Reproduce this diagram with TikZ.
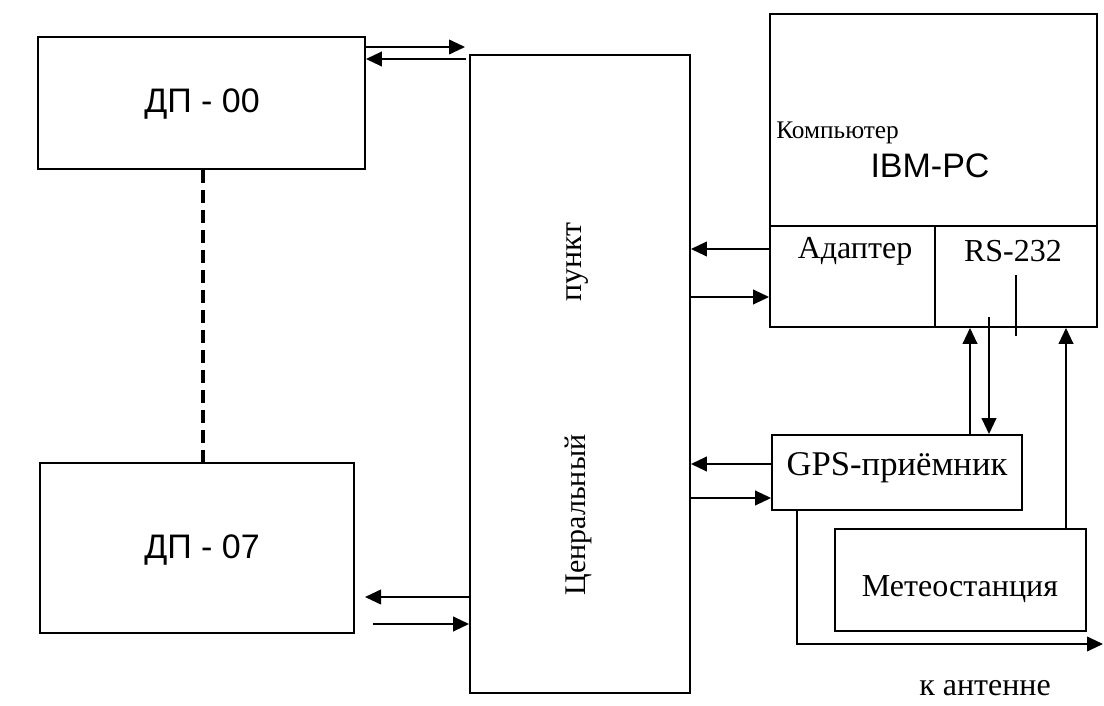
\documentclass[tikz,border=0pt]{standalone}
\usepackage{fontspec}
\setmainfont{Liberation Serif}
\setsansfont{Liberation Sans}
\usetikzlibrary{arrows.meta}

\begin{document}
\begin{tikzpicture}[
  box/.style={draw,line width=1.4pt,minimum width=#1,inner sep=0pt},
  box/.default=1pt,
  arr/.style={-{Triangle[length=12pt,width=11pt]},line width=1.4pt},
  wire/.style={line width=1.4pt},
  lbl/.style={font=\fontsize{24}{28}\selectfont,inner sep=0pt},
  slbl/.style={font=\sffamily\fontsize{25.5}{30}\selectfont,inner sep=0pt},
  x=0.75pt,y=-0.75pt
]
  \useasboundingbox (0,0) rectangle (1104,706);

  % blocks
  \node[box=327*0.75pt,minimum height=132*0.75pt] (dp0) at (201.5,103) {};
  \node[box=314*0.75pt,minimum height=170*0.75pt] (dp7) at (197,548) {};
  \node[box=220*0.75pt,minimum height=638*0.75pt] (cp) at (580,374) {};
  \node[box=327*0.75pt,minimum height=313*0.75pt] (pc) at (933.5,170.5) {};
  \node[box=165*0.75pt,minimum height=101*0.75pt] (ad) at (852.5,276.5) {};
  \node[box=162*0.75pt,minimum height=101*0.75pt] (rs) at (1016,276.5) {};
  \node[box=250*0.75pt,minimum height=75*0.75pt] (gps) at (897,472.5) {};
  \node[box=251*0.75pt,minimum height=102*0.75pt] (met) at (960.5,580) {};

  % texts
  \node[slbl] (tdp0) at (202,104) {ДП - 00};
  \node[slbl] (tdp7) at (202,550) {ДП - 07};
  \node[lbl,anchor=west,font=\fontsize{19}{22}\selectfont] (tpc) at (776,133) {Компьютер};
  \node[slbl] (tibm) at (930,166) {IBM-PC};
  \node[lbl] (tad) at (855,251) {Адаптер};
  \node[lbl] (trs) at (1013,251) {RS-232};
  \node[lbl,font=\fontsize{26}{30}\selectfont] (tgps) at (897,468) {GPS-приёмник};
  \node[lbl] (tmet) at (960,589) {Метеостанция};
  \node[lbl] (tant) at (985,688) {к антенне};
  \node[lbl,rotate=90,font=\fontsize{22.5}{26}\selectfont] (tcp1) at (578,515) {Ценральный};
  \node[lbl,rotate=90] (tcp2) at (578,262) {пункт};

  % free ends
  \coordinate (c1) at (465,47);
  \coordinate (c2) at (466,59);
  \coordinate (c3) at (365,597);
  \coordinate (c4) at (373,624);
  \coordinate (c5) at (1016,275);
  \coordinate (c6) at (1016,336);
  \coordinate (c7) at (797,644);
  \coordinate (c8) at (1103,644);

  % links to the dispatch points
  \draw[arr] (dp0.east |- c1) -- (c1);
  \draw[arr] (c2) -- (dp0.east |- c2);
  \draw[line width=3.2pt,dash pattern=on 10pt off 5pt] (dp0.south -| 203,0) -- (dp7.north -| 203,0);
  \draw[arr] (cp.west |- c3) -- (c3);
  \draw[arr] (c4) -- (cp.west |- c4);

  % links to the computer and receiver
  \draw[arr] (ad.west |- 0,249) -- (cp.east |- 0,249);
  \draw[arr] (cp.east |- 0,297) -- (ad.west |- 0,297);
  \draw[arr] (gps.west |- 0,464) -- (cp.east |- 0,464);
  \draw[arr] (cp.east |- 0,498) -- (gps.west |- 0,498);
  \draw[arr] (gps.north -| 970,0) -- (rs.south -| 970,0);
  \draw[arr] (989,317) -- (gps.north -| 989,0);
  \draw[wire] (c5) -- (c6);
  \draw[arr] (met.north -| 1066,0) -- (rs.south -| 1066,0);
  \draw[arr] (gps.south -| c7) -- (c7) -- (c8);
\end{tikzpicture}
\end{document}
